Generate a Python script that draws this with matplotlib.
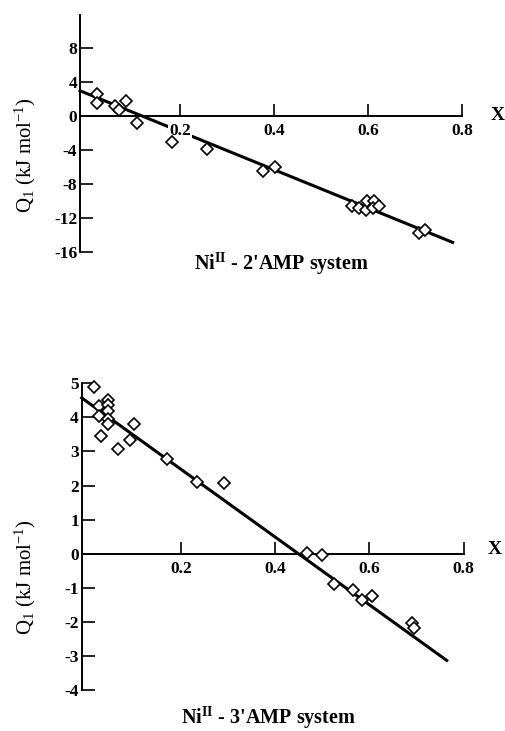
import matplotlib
matplotlib.use("Agg")
import matplotlib.pyplot as plt
import numpy as np

# # # # # # # # # #   DATA   # # # # # # # # # #

# Ni(II) - 2'AMP system
x_2amp = [0.023, 0.023, 0.062, 0.070, 0.085, 0.108, 0.182, 0.258, 0.376, 0.402,
          0.567, 0.581, 0.596, 0.597, 0.613, 0.611, 0.623, 0.708, 0.721]
q_2amp = [2.55, 1.53, 1.14, 0.67, 1.76, -0.90, -3.06, -3.88, -6.47, -6.07,
          -10.6, -10.8, -11.1, -10.0, -10.0, -10.8, -10.6, -13.8, -13.4]
fit_2amp = (2.65, -22.5)        # intercept, slope
span_2amp = (-0.0128, 0.780)

# Ni(II) - 3'AMP system
x_3amp = [0.016, 0.027, 0.027, 0.031, 0.046, 0.046, 0.046, 0.046, 0.046, 0.067,
          0.092, 0.101, 0.171, 0.235, 0.292, 0.468, 0.499, 0.525, 0.566, 0.584,
          0.606, 0.691, 0.695]
q_3amp = [4.89, 4.32, 4.03, 3.45, 4.52, 4.35, 4.20, 3.96, 3.81, 3.08,
          3.34, 3.81, 2.79, 2.10, 2.07, 0.02, -0.04, -0.88, -1.06, -1.37,
          -1.24, -2.03, -2.17]
fit_3amp = (4.47, -9.95)
span_3amp = (-0.0102, 0.764)

xticks = [0.2, 0.4, 0.6, 0.8]
yticks_2amp = [8, 4, 0, -4, -8, -12, -16]
yticks_3amp = [5, 4, 3, 2, 1, 0, -1, -2, -3, -4]

plt.rcParams['font.family'] = ['Liberation Serif', 'DejaVu Serif']
plt.rcParams['mathtext.fontset'] = 'custom'
plt.rcParams['mathtext.rm'] = 'Liberation Serif'
plt.rcParams['mathtext.it'] = 'Liberation Serif:italic'
plt.rcParams['mathtext.bf'] = 'Liberation Serif:bold'

W, H = 505.0, 731.0
fig = plt.figure(figsize=(5.05, 7.31), dpi=100)


def panel(rect, xs, qs, fit, span, xlim, ylim, yticks):
    ax = fig.add_axes(rect)
    ax.set_xlim(*xlim)
    ax.set_ylim(*ylim)
    for s in ['top', 'right']:
        ax.spines[s].set_visible(False)
    ax.spines['bottom'].set_position(('data', 0))
    ax.spines['left'].set_linewidth(1.4)
    ax.spines['bottom'].set_linewidth(1.4)
    ax.set_axisbelow(False)
    ax.set_xticks(xticks)
    ax.set_xticklabels([str(t) for t in xticks], fontweight='bold')
    ax.set_yticks(yticks)
    ax.set_yticklabels([str(t) for t in yticks], fontweight='bold')
    ax.tick_params(direction='in', length=9, width=1.2, labelsize=12.5)
    ax.tick_params(axis='x', pad=5)
    ax.tick_params(axis='y', pad=2)
    for lbl in ax.get_xticklabels():
        lbl.set_bbox(dict(facecolor='white', edgecolor='none', pad=0.5))
    # fitted line
    xx = np.array(span)
    ax.plot(xx, fit[0] + fit[1] * xx, color='black', lw=2.2, zorder=2, clip_on=False)
    # data
    ax.plot(xs, qs, 'D', ms=6.3, mfc='white', mec='black', mew=1.2, zorder=3, clip_on=False)
    return ax


# top panel
ax1 = panel([80 / W, 1 - 251.7 / H, 382 / W, (251.7 - 15) / H],
            x_2amp, q_2amp, fit_2amp, span_2amp,
            (-0.0128, 0.8), (-16, 11.85), yticks_2amp)
# bottom panel
ax2 = panel([81.7 / W, 1 - 690 / H, 382 / W, (690 - 383.3) / H],
            x_3amp, q_3amp, fit_3amp, span_3amp,
            (-0.0102, 0.8), (-4, 5), yticks_3amp)

ylab = r'Q$_1$ (kJ mol$^{-1}$)'
fig.text(25 / W, 1 - 155 / H, ylab, rotation=90, ha='center', va='center', fontsize=15)
fig.text(25 / W, 1 - 577 / H, ylab, rotation=90, ha='center', va='center', fontsize=15)

fig.text(498 / W, 1 - 116 / H, 'X', ha='center', va='center', fontsize=14, fontweight='bold')
fig.text(495 / W, 1 - 550 / H, 'X', ha='center', va='center', fontsize=14, fontweight='bold')

fig.text(281 / W, 1 - 270 / H, r"Ni$^{\mathbf{II}}$ - 2'AMP system", ha='center', va='baseline',
         fontsize=14.5, fontweight='bold')
fig.text(268 / W, 1 - 724 / H, r"Ni$^{\mathbf{II}}$ - 3'AMP system", ha='center', va='baseline',
         fontsize=14.5, fontweight='bold')

fig.savefig('out.png', dpi=100)
